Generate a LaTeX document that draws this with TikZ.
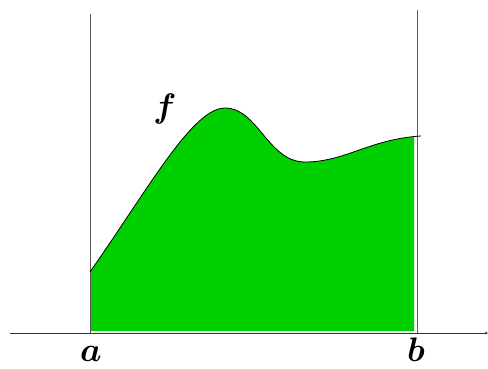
\RequirePackage{fix-cm}
\documentclass[tikz,border=0pt]{standalone}
\usepackage{amsmath, amssymb, bm}
\usetikzlibrary{arrows.meta, positioning, calc}
\definecolor{areagreen}{RGB}{0,208,0}
\definecolor{edgegray}{RGB}{90,90,90}

\begin{document}
\begin{tikzpicture}[
  x=1pt, y=-1pt,
  axisline/.style={draw=black!80, line width=0.8pt, -{Stealth[length=3pt, width=3pt]}},
  boundline/.style={draw=edgegray, line width=0.8pt},
  graphline/.style={draw=black, line width=0.8pt},
  lbl/.style={inner sep=0pt, font=\fontsize{34}{34}\selectfont}
]
\useasboundingbox (0,0) rectangle (488,368);

% points on the graph
\coordinate (start) at (90,272);
\coordinate (peak) at (225,108);
\coordinate (dip) at (305,162);
\coordinate (stop) at (421,136);

% area under f
\begin{scope}
  \clip (90,0) rectangle (414,331);
  \fill[areagreen] (90,331) -- (start)
    .. controls (150,186) and (193,108) .. (peak)
    .. controls (258,108) and (268,162) .. (dip)
    .. controls (345,162) and (370,139) .. (stop)
    -- (421,331) -- cycle;
\end{scope}

\coordinate (xl) at (10,333);
\coordinate (xr) at (488,333);
\coordinate (atop) at (90,14);
\coordinate (abot) at (90,333);
\coordinate (btop) at (417,10);
\coordinate (bbot) at (417,333);

\draw[boundline] (atop) -- (abot);
\draw[boundline] (btop) -- (bbot);
\draw[axisline] (xl) -- (xr);

\draw[graphline] (start)
  .. controls (150,186) and (193,108) .. (peak)
  .. controls (258,108) and (268,162) .. (dip)
  .. controls (345,162) and (370,139) .. (stop);

\node[lbl, anchor=base] (la) at (91,361) {$\bm{a}$};
\node[lbl, anchor=base] (lb) at (416,361) {$\bm{b}$};
\node[lbl, anchor=base] (lf) at (165,117) {$\bm{f}$};
\end{tikzpicture}
\end{document}
